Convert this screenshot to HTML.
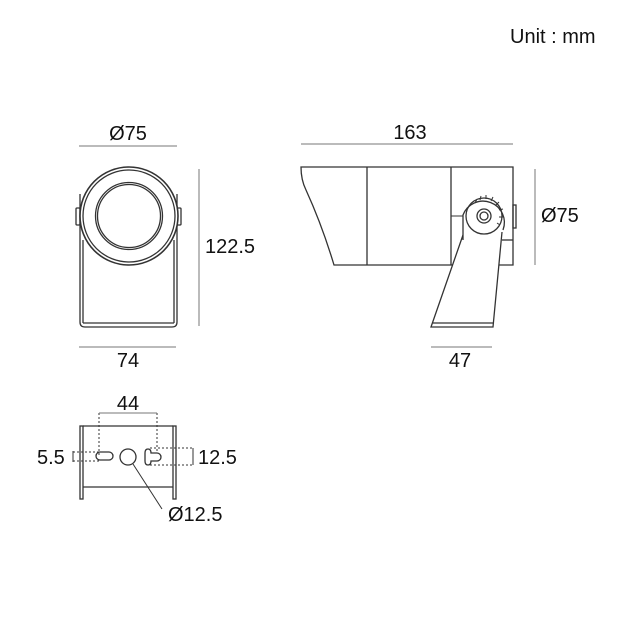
<!DOCTYPE html>
<html><head><style>body{margin:0;background:#fff}svg{display:block}</style></head><body>
<svg width="620" height="620" viewBox="0 0 620 620" xmlns="http://www.w3.org/2000/svg" font-family="Liberation Sans, sans-serif" fill="none" stroke="#333" stroke-width="1.3">
<rect width="620" height="620" fill="#fff" stroke="none"/>
<g fill="#111" stroke="none" font-size="20">
<text x="510" y="43" font-size="20">Unit : mm</text>
<text x="128" y="140" text-anchor="middle">Ø75</text>
<text x="205" y="253">122.5</text>
<text x="128" y="367" text-anchor="middle">74</text>
<text x="410" y="139" text-anchor="middle">163</text>
<text x="541" y="222">Ø75</text>
<text x="460" y="367" text-anchor="middle">47</text>
<text x="128" y="410" text-anchor="middle">44</text>
<text x="37" y="464">5.5</text>
<text x="198" y="464">12.5</text>
<text x="168" y="521">Ø12.5</text>
</g>
<g stroke="#777" stroke-width="1">
<line x1="79" y1="146" x2="177" y2="146"/>
<line x1="199" y1="169" x2="199" y2="326"/>
<line x1="79" y1="347" x2="176" y2="347"/>
<line x1="301" y1="144" x2="513" y2="144"/>
<line x1="535" y1="169" x2="535" y2="265"/>
<line x1="431" y1="347" x2="492" y2="347"/>
</g>
<!-- front view -->
<path d="M80 194 V322 Q80 327 85 327 H172 Q177 327 177 322 V194"/>
<line x1="83" y1="240" x2="83" y2="323"/><line x1="174" y1="240" x2="174" y2="323"/>
<line x1="83" y1="323" x2="174" y2="323"/>
<rect x="76" y="208" width="4" height="17" rx="1"/><rect x="177" y="208" width="4" height="17" rx="1"/>
<circle cx="129" cy="216" r="49" fill="#fff" stroke-width="1.6"/>
<circle cx="129" cy="216" r="46"/>
<circle cx="129" cy="216" r="33.5"/><circle cx="129" cy="216" r="31.5"/>
<!-- side view -->
<path d="M301 167 H513 V265 H334 Q322 225 306 190 Q301 180 301 167 Z"/>
<line x1="367" y1="167" x2="367" y2="265"/>
<line x1="451" y1="167" x2="451" y2="265"/>
<line x1="502" y1="240" x2="513" y2="240"/>
<rect x="513" y="205" width="3" height="23"/>
<path d="M463 235 L431 327 H493 L502 232" fill="#fff"/>
<line x1="433" y1="323" x2="493" y2="323"/>
<path d="M463 240 V215 A21 21 0 1 1 503 230" fill="#fff"/>
<circle cx="484" cy="216" r="18"/>
<circle cx="484" cy="216" r="7"/><circle cx="484" cy="216" r="4"/>
<path d="M475 203 l2 -4 M480 200 l1 -4 M486 199 l0 -4 M491 201 l2 -4 M496 205 l3 -3 M499 210 l4 -1 M499 217 l4 0 M497 223 l3 2" stroke-width="1"/>
<line x1="451" y1="216" x2="463" y2="216" stroke-width="1"/>
<!-- bottom view -->
<g stroke-dasharray="2 2" stroke-width="1">
<line x1="99" y1="413" x2="99" y2="455"/><line x1="157" y1="413" x2="157" y2="452"/>
<line x1="73" y1="452" x2="100" y2="452"/><line x1="73" y1="461" x2="100" y2="461"/>
<line x1="150" y1="448" x2="193" y2="448"/><line x1="150" y1="465" x2="193" y2="465"/>
</g>
<line x1="99" y1="413" x2="157" y2="413" stroke="#777" stroke-width="1"/>
<line x1="73" y1="451" x2="73" y2="462" stroke-width="1"/>
<line x1="193" y1="448" x2="193" y2="465" stroke-width="1"/>
<rect x="80" y="426" width="3" height="73"/><rect x="173" y="426" width="3" height="73"/>
<line x1="83" y1="426" x2="173" y2="426"/><line x1="83" y1="487" x2="173" y2="487"/>
<rect x="96" y="452" width="17" height="8" rx="4"/>
<circle cx="128" cy="457" r="8"/>
<path d="M148 449 Q145 449 145 453 V461 Q145 465 148 465 Q151 465 151 461 H157 A3.5 3.5 0 0 0 157 453 H151 Q151 449 148 449 Z"/>
<line x1="133" y1="464" x2="162" y2="509" stroke-width="1"/>
</svg>
</body></html>
